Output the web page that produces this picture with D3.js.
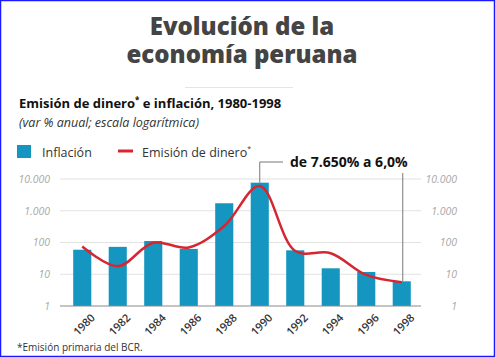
<!DOCTYPE html>
<html>
<head>
<meta charset="utf-8">
<script src="https://cdn.jsdelivr.net/npm/d3@7"></script>
<style>
  body { margin: 0; background: #fff; }
  svg { display: block; font-family: "Open Sans", sans-serif; }
</style>
</head>
<body>
<svg id="chart" width="496" height="358"></svg>
<script>
// Data (var % anual)
const years = ['1980', '1982', '1984', '1986', '1988', '1990', '1992', '1994', '1996', '1998'];
const inflation = [59.2, 72.9, 111.5, 62.9, 1722, 7650, 56.7, 15.4, 11.8, 6.0];
const moneyIssue = [75, 18, 98, 70, 330, 6000, 54, 46, 9.5, 5.6];
const yTicks = [1, 10, 100, 1000, 10000];
const yTickLabels = ['1', '10', '100', '1.000', '10.000'];

const BAR = '#1596c0';
const RED = '#d62631';

const svg = d3.select('#chart');

// frame
svg.append('rect')
  .attr('x', 0.5).attr('y', 0.5).attr('width', 494).attr('height', 356)
  .attr('fill', '#fff').attr('stroke', '#1a1aff').attr('stroke-width', 1.5);

// Title
[['Evolución de la', 35], ['economía peruana', 63]].forEach(([t, yy]) => {
  svg.append('text')
    .attr('x', 242).attr('y', yy)
    .attr('text-anchor', 'middle')
    .attr('fill', '#444')
    .attr('font-weight', 800)
    .attr('font-size', '24px')
    .text(t);
});

svg.append('line')
  .attr('x1', 185).attr('x2', 293).attr('y1', 87.5).attr('y2', 87.5)
  .attr('stroke', '#e4e4e4').attr('stroke-width', 1);

// Subtitle
const sub = svg.append('text')
  .attr('x', 19).attr('y', 108)
  .attr('font-size', '13px').attr('font-weight', 700).attr('fill', '#111');
sub.append('tspan').text('Emisión de dinero');
sub.append('tspan').attr('font-size', '8px').attr('dy', -5).text('*');
sub.append('tspan').attr('dy', 5).text(' e inflación, 1980-1998');

svg.append('text')
  .attr('x', 19).attr('y', 127)
  .attr('font-size', '12.5px').attr('font-style', 'italic').attr('fill', '#333')
  .text('(var % anual; escala logarítmica)');

// Legend
svg.append('rect').attr('x', 17).attr('y', 145).attr('width', 14).attr('height', 13).attr('fill', BAR);
svg.append('text').attr('x', 42).attr('y', 156.5).attr('font-size', '12.5px').attr('fill', '#333').text('Inflación');
svg.append('line').attr('x1', 118).attr('x2', 133).attr('y1', 151).attr('y2', 151)
  .attr('stroke', RED).attr('stroke-width', 3);
const lg = svg.append('text').attr('x', 142).attr('y', 156.5).attr('font-size', '12.5px').attr('fill', '#333');
lg.append('tspan').text('Emisión de dinero');
lg.append('tspan').attr('font-size', '7px').attr('dy', -6).text('*');

// Scales
const x = d3.scaleBand().domain(years).range([64.5, 419.5]).paddingInner(0.49).paddingOuter(0.245);
const y = d3.scaleLog().domain([1, 10000]).range([306, 179]);

// Gridlines
svg.append('g')
  .selectAll('line')
  .data(yTicks.slice(1))
  .join('line')
  .attr('x1', 60).attr('x2', 421)
  .attr('y1', d => y(d)).attr('y2', d => y(d))
  .attr('stroke', '#e2e2e2').attr('stroke-width', 1.2);

// Y labels, both sides
const yLeft = d3.axisLeft(y).tickValues(yTicks).tickFormat((d, i) => yTickLabels[i]).tickSize(0).tickPadding(0);
const yRight = d3.axisRight(y).tickValues(yTicks).tickFormat((d, i) => yTickLabels[i]).tickSize(0).tickPadding(0);
svg.append('g').attr('transform', 'translate(50,0)').call(yLeft)
  .call(g => g.select('.domain').remove());
svg.append('g').attr('transform', 'translate(457,0)').call(yRight)
  .call(g => g.select('.domain').remove())
  .call(g => g.selectAll('text').attr('text-anchor', 'end'));
svg.selectAll('.tick text')
  .attr('font-family', '"Open Sans", sans-serif')
  .attr('font-size', '10.5px').attr('font-style', 'italic').attr('fill', '#a8a8a8');

// Bars
svg.append('g')
  .selectAll('rect')
  .data(years)
  .join('rect')
  .attr('x', d => x(d))
  .attr('width', x.bandwidth())
  .attr('y', (d, i) => y(inflation[i]))
  .attr('height', (d, i) => y(1) - y(inflation[i]))
  .attr('fill', BAR);

// Baseline
svg.append('line')
  .attr('x1', 60).attr('x2', 421).attr('y1', y(1)).attr('y2', y(1))
  .attr('stroke', '#8a8a8a').attr('stroke-width', 1.2);

// X labels
svg.append('g')
  .selectAll('text')
  .data(years)
  .join('text')
  .attr('transform', d => `translate(${x(d) + x.bandwidth() / 2 + 8},${y(1) + 7}) rotate(-45)`)
  .attr('text-anchor', 'end')
  .attr('dy', '0.7em')
  .attr('font-size', '11px').attr('font-weight', 600).attr('fill', '#333')
  .text(d => d);

// Line
const line = d3.line()
  .x((d, i) => x(years[i]) + x.bandwidth() / 2)
  .y(d => y(d))
  .curve(d3.curveCatmullRom.alpha(0.5));
svg.append('path')
  .datum(moneyIssue)
  .attr('d', line)
  .attr('fill', 'none').attr('stroke', RED).attr('stroke-width', 2.5);

// Annotation
const cx90 = x('1990') + x.bandwidth() / 2;
const cx98 = x('1998') + x.bandwidth() / 2 + 1;
svg.append('polyline')
  .attr('points', `${cx90},${y(inflation[5])} ${cx90},162 ${283},162`)
  .attr('fill', 'none').attr('stroke', '#777').attr('stroke-width', 1);
svg.append('line')
  .attr('x1', cx98).attr('x2', cx98).attr('y1', 173).attr('y2', y(inflation[9]))
  .attr('stroke', '#777').attr('stroke-width', 1);
svg.append('text')
  .attr('x', 290).attr('y', 167)
  .attr('font-size', '14px').attr('font-weight', 700).attr('fill', '#111')
  .text('de 7.650% a 6,0%');

// Footnote
svg.append('text')
  .attr('x', 17).attr('y', 351)
  .attr('font-size', '10px').attr('fill', '#333')
  .text('*Emisión primaria del BCR.');
</script>
</body>
</html>
